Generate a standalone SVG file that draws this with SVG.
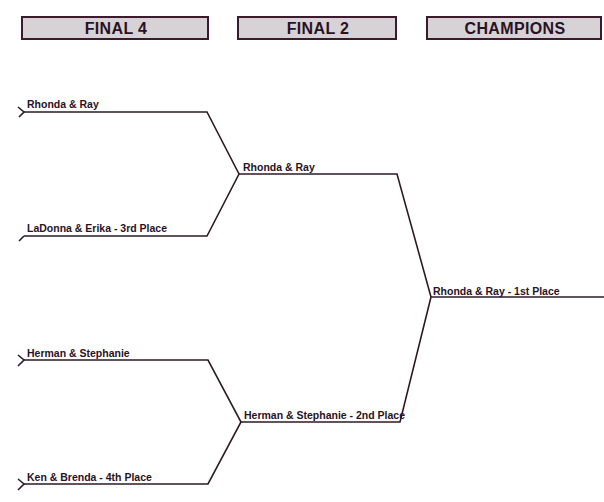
<svg xmlns="http://www.w3.org/2000/svg" width="604" height="502" viewBox="0 0 604 502">
<style>
.hdr rect{fill:#d6d2d6;stroke:#3a1a2c;stroke-width:2}
.hdr text{font-family:"Liberation Sans",Arial,sans-serif;font-weight:bold;font-size:16px;letter-spacing:0.35px;fill:#2a1224;text-anchor:middle}
.lbl{font-family:"Liberation Sans",Arial,sans-serif;font-weight:bold;font-size:10.5px;fill:#2a1224}
.ln{fill:none;stroke:#2e1a26;stroke-width:1.6;stroke-linejoin:miter}
</style>
<rect width="604" height="502" fill="#ffffff"/>
<g id="hdr-final4" class="hdr"><rect x="22" y="17" width="186" height="22"/><text x="116" y="34">FINAL 4</text></g>
<g id="hdr-final2" class="hdr"><rect x="238" y="17" width="158" height="22"/><text x="318" y="34">FINAL 2</text></g>
<g id="hdr-champions" class="hdr"><rect x="427" y="17" width="174" height="22"/><text x="515" y="34">CHAMPIONS</text></g>
<g id="connectors">
<path class="ln" d="M18,107 L24,112 L19,117"/>
<path class="ln" d="M24,112 H207 L239,174 L207,236 H24"/>
<path class="ln" d="M19,241 L24,236"/>
<path class="ln" d="M18,355 L24,360 L18,366"/>
<path class="ln" d="M24,360 H208 L241,422 L208,484 H24"/>
<path class="ln" d="M18,479 L24,484 L18,490"/>
<path class="ln" d="M239,174 H397 L431,297 L400,422 H241"/>
<path class="ln" d="M431,297 H604"/>
</g>
<g id="n-rhonda-ray"><text class="lbl" x="27" y="108">Rhonda &amp; Ray</text></g>
<g id="n-ladonna-erika"><text class="lbl" x="27" y="232">LaDonna &amp; Erika - 3rd Place</text></g>
<g id="n-herman-stephanie"><text class="lbl" x="27" y="357">Herman &amp; Stephanie</text></g>
<g id="n-ken-brenda"><text class="lbl" x="27" y="481">Ken &amp; Brenda - 4th Place</text></g>
<g id="n-final2-rhonda"><text class="lbl" x="243" y="171">Rhonda &amp; Ray</text></g>
<g id="n-final2-herman"><text class="lbl" x="244" y="419">Herman &amp; Stephanie - 2nd Place</text></g>
<g id="n-champion"><text class="lbl" x="433" y="295">Rhonda &amp; Ray - 1st Place</text></g>
</svg>
